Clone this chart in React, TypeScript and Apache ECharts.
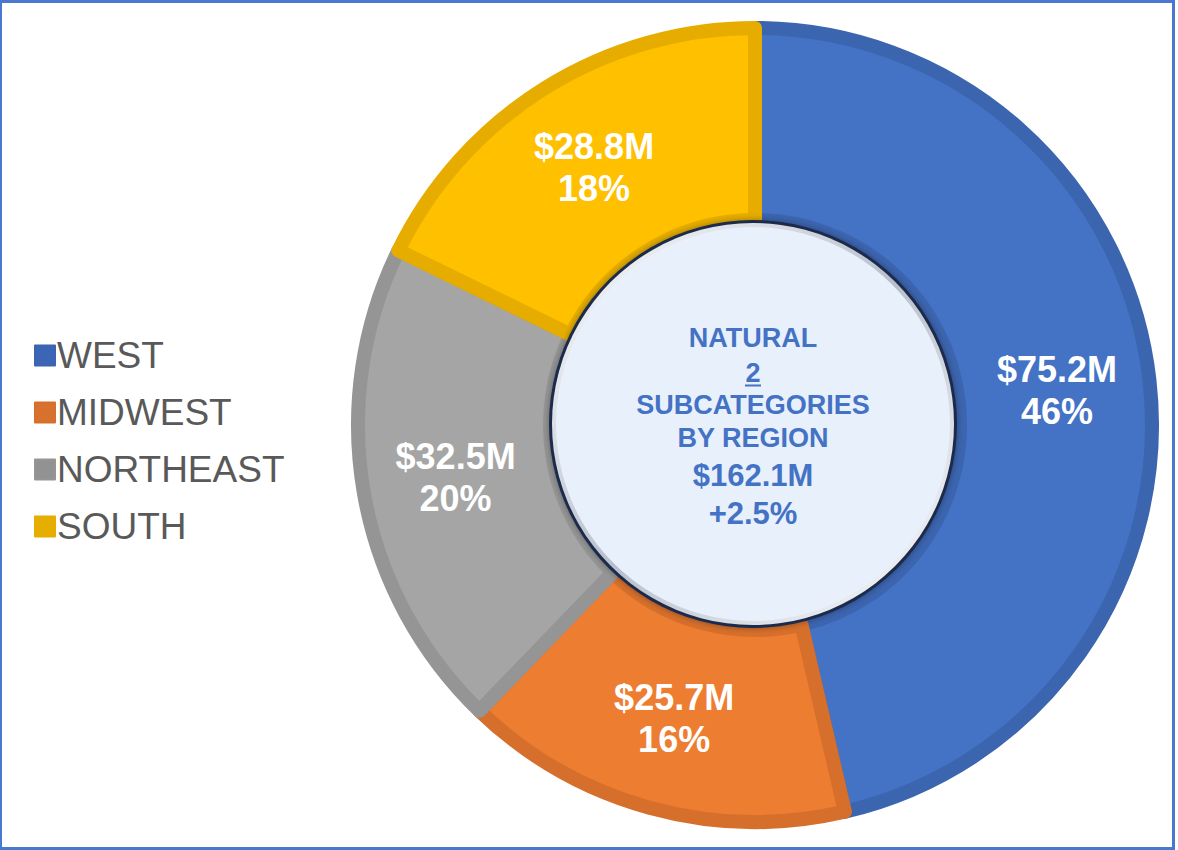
import React, { useEffect, useRef } from "react";
import * as echarts from "echarts";

const categories = ["WEST", "MIDWEST", "NORTHEAST", "SOUTH"];
const values = [75.2, 25.7, 32.5, 28.8];
const fillColors = ["#4472C4", "#ED7D31", "#A5A5A5", "#FFC000"];
const edgeColors = ["#3C65AF", "#D66F2B", "#959595", "#E6AD00"];
const legendColors = ["#3C65B5", "#D8702E", "#929292", "#E6AE00"];
const centerLines = ["NATURAL", "2", "SUBCATEGORIES", "BY REGION", "$162.1M", "+2.5%"];
const centerSizes = [27, 27, 27, 27, 31, 31];
const centerY = [338, 373, 405, 438, 475, 513];

const CX = 755;
const CY = 425;

export default function App() {
  const ref = useRef<HTMLDivElement>(null);
  useEffect(() => {
    document.body.style.margin = "0";
    const chart = echarts.init(ref.current!, undefined, { renderer: "svg" });
    const font = 'Arial, "Liberation Sans", Helvetica, sans-serif';
    const texts: any[] = centerLines.map((t, i) => ({
      type: "text",
      x: CX - 2,
      y: centerY[i],
      z: 20,
      silent: true,
      style: {
        text: t,
        fill: "#4472C4",
        font: `bold ${centerSizes[i]}px ${font}`,
        textAlign: "center",
        textVerticalAlign: "middle",
      },
    }));
    chart.setOption({
      animation: false,
      backgroundColor: "#FFFFFF",
      legend: {
        orient: "vertical",
        left: 29,
        top: 332,
        itemWidth: 20,
        itemHeight: 20,
        itemGap: 20,
        icon: "rect",
        selectedMode: false,
        data: categories.map((c, i) => ({ name: c, itemStyle: { color: legendColors[i] } })),
        textStyle: {
          fontFamily: font,
          fontSize: 37,
          color: "#595959",
          lineHeight: 37,
          padding: [0, 0, 0, -3],
        },
      },
      series: [
        {
          type: "pie",
          center: [CX, CY],
          radius: [205, 397],
          startAngle: 90,
          clockwise: true,
          silent: true,
          percentPrecision: 0,
          emphasis: { disabled: true },
          itemStyle: { borderWidth: 14 },
          label: {
            show: true,
            position: "inside",
            formatter: (p: any) => `$${p.value}M\n${p.percent}%`,
            color: "#FFFFFF",
            fontFamily: font,
            fontWeight: "bold",
            fontSize: 36,
            lineHeight: 42,
          },
          labelLine: { show: false },
          data: categories.map((c, i) => ({
            name: c,
            value: values[i],
            itemStyle: { color: fillColors[i], borderColor: edgeColors[i] },
          })),
        },
      ],
      graphic: [
        {
          type: "rect",
          z: 30,
          silent: true,
          shape: { x: 0.5, y: 1.5, width: 1173, height: 847 },
          style: { fill: "none", stroke: "#4A78D0", lineWidth: 3 },
        },
        {
          type: "circle",
          z: 10,
          silent: true,
          shape: { cx: CX - 2, cy: CY - 1, r: 204 },
          style: { fill: "#1B2B4C", shadowBlur: 6, shadowColor: "rgba(0,0,0,0.35)" },
        },
        {
          type: "circle",
          z: 11,
          silent: true,
          shape: { cx: CX - 2, cy: CY - 1, r: 201 },
          style: {
            fill: new echarts.graphic.LinearGradient(0, 0, 1, 1, [
              { offset: 0, color: "#FFFFFF" },
              { offset: 0.5, color: "#B8BFCC" },
              { offset: 1, color: "#FFFFFF" },
            ]),
          },
        },
        {
          type: "circle",
          z: 12,
          silent: true,
          shape: { cx: CX - 2, cy: CY - 1, r: 197 },
          style: { fill: "#E8F0FC" },
        },
        ...texts,
        {
          type: "line",
          z: 20,
          silent: true,
          shape: { x1: CX - 10, y1: 385.5, x2: CX + 6, y2: 385.5 },
          style: { stroke: "#4472C4", lineWidth: 2 },
        },
      ],
    });
    return () => chart.dispose();
  }, []);
  return <div ref={ref} style={{ width: 1178, height: 850 }} />;
}
